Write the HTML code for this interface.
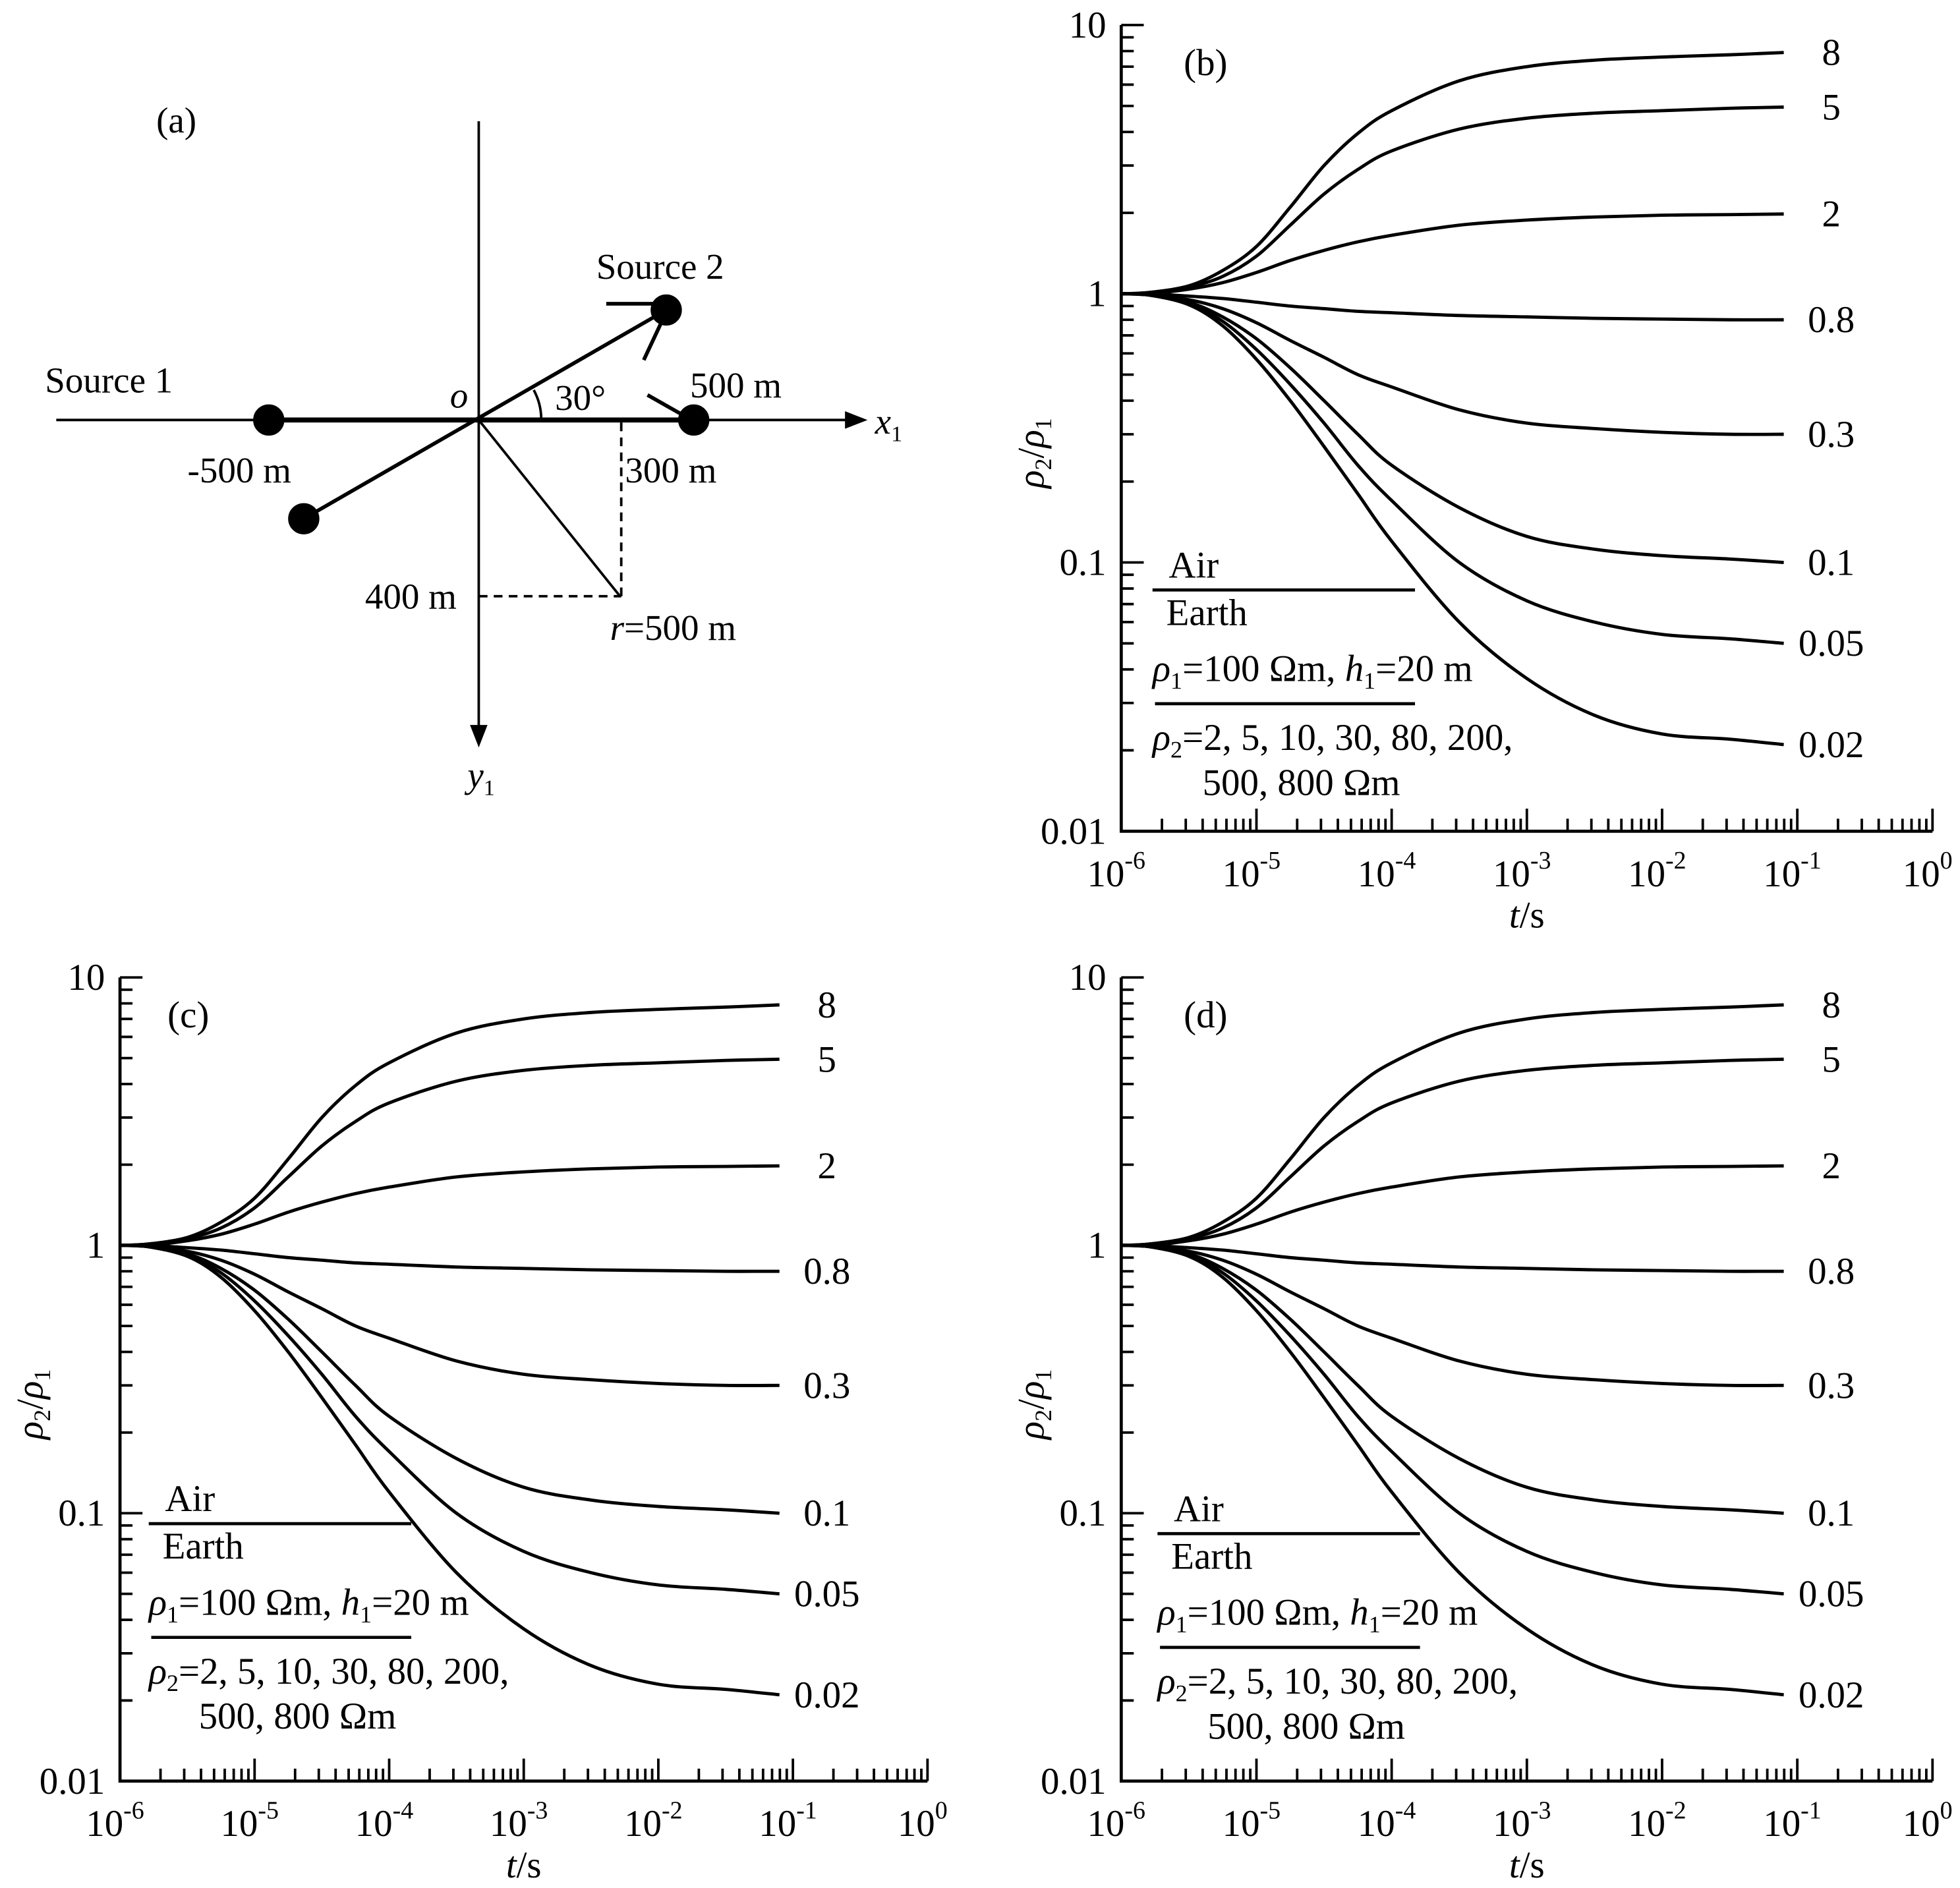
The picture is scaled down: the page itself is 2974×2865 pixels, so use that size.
<!DOCTYPE html>
<html><head><meta charset="utf-8"><style>
html,body{margin:0;padding:0;background:#fff}
svg{display:block}
text{font-family:"Liberation Serif",serif;fill:#000}
</style></head><body>
<svg id="fig" width="2974" height="2865" viewBox="0 0 1568 1510.5" xmlns="http://www.w3.org/2000/svg">
<g id="panel-a" stroke="#000" fill="none">
  <line x1="45" y1="336" x2="688" y2="336" stroke-width="2"/>
  <polygon points="694,336 676,329 676,343" fill="#000" stroke="none"/>
  <line x1="215" y1="336" x2="555" y2="336" stroke-width="4"/>
  <line x1="383" y1="97" x2="383" y2="590" stroke-width="2"/>
  <polygon points="383,598 376,580 390,580" fill="#000" stroke="none"/>
  <line x1="243" y1="415" x2="533" y2="248" stroke-width="3"/>
  <line x1="485" y1="243" x2="530" y2="243" stroke-width="3"/>
  <line x1="515" y1="288" x2="530" y2="256" stroke-width="3"/>
  <line x1="518" y1="316" x2="548" y2="333" stroke-width="3"/>
  <line x1="383" y1="336" x2="496" y2="477" stroke-width="2"/>
  <line x1="497" y1="338" x2="497" y2="477" stroke-width="2" stroke-dasharray="7,5"/>
  <line x1="383" y1="477" x2="497" y2="477" stroke-width="2" stroke-dasharray="7,5"/>
  <path d="M433,336 A50,50 0 0 0 427,312" stroke-width="2"/>
  <circle cx="215" cy="336" r="12" fill="#000"/>
  <circle cx="555" cy="336" r="12" fill="#000"/>
  <circle cx="533" cy="248" r="12" fill="#000"/>
  <circle cx="243" cy="415" r="12" fill="#000"/>
</g>
<g font-size="29">
  <text x="125" y="106">(a)</text>
  <text x="477" y="223">Source 2</text>
  <text x="36" y="314">Source 1</text>
  <text x="360" y="326" font-style="italic">o</text>
  <text x="444" y="328">30°</text>
  <text x="552" y="318">500 m</text>
  <text x="700" y="347" font-style="italic">x<tspan font-size="18" dy="6" font-style="normal">1</tspan></text>
  <text x="150" y="386">-500 m</text>
  <text x="500" y="386">300 m</text>
  <text x="292" y="487">400 m</text>
  <text x="488" y="512"><tspan font-style="italic">r</tspan>=500 m</text>
  <text x="374" y="630" font-style="italic">y<tspan font-size="18" dy="6" font-style="normal">1</tspan></text>
</g>
</svg>
<script>
const logTimes = [-6, -5.8, -5.5, -5.25, -5, -4.75, -4.5, -4.25, -4, -3.5, -3, -2.5, -2, -1.5, -1.1];
const ratioLabels = ["8","5","2","0.8","0.3","0.1","0.05","0.02"];
const curve8   = [1, 1.01, 1.07, 1.22, 1.5, 2.1, 3.0, 3.95, 4.8, 6.2, 7.0, 7.4, 7.6, 7.75, 7.9];
const curve5   = [1, 1.01, 1.06, 1.16, 1.38, 1.8, 2.35, 2.9, 3.4, 4.1, 4.5, 4.7, 4.8, 4.9, 4.95];
const curve2   = [1, 1.0, 1.04, 1.1, 1.2, 1.33, 1.45, 1.56, 1.65, 1.8, 1.88, 1.93, 1.96, 1.97, 1.98];
const curve08  = [1, 1.0, 0.98, 0.96, 0.93, 0.9, 0.88, 0.86, 0.85, 0.83, 0.82, 0.81, 0.805, 0.8, 0.8];
const curve03  = [1, 0.99, 0.95, 0.88, 0.78, 0.67, 0.58, 0.5, 0.45, 0.37, 0.33, 0.315, 0.305, 0.3, 0.3];
const curve01  = [1, 0.99, 0.93, 0.82, 0.68, 0.53, 0.4, 0.3, 0.23, 0.16, 0.125, 0.112, 0.106, 0.103, 0.1];
const curve005 = [1, 0.99, 0.92, 0.79, 0.62, 0.46, 0.33, 0.23, 0.17, 0.1, 0.072, 0.06, 0.054, 0.052, 0.05];
const curve002 = [1, 0.99, 0.91, 0.76, 0.57, 0.4, 0.27, 0.18, 0.12, 0.06, 0.037, 0.027, 0.023, 0.022, 0.021];
const allCurves = [curve8, curve5, curve2, curve08, curve03, curve01, curve005, curve002];
const xTickExps = [-6, -5, -4, -3, -2, -1, 0];
const yTickLabels = ["0.01", "0.1", "1", "10"];

const NS = "http://www.w3.org/2000/svg";
const svg = document.getElementById("fig");
function mk(tag, attrs, parent) {
  const e = document.createElementNS(NS, tag);
  for (const k in attrs) e.setAttribute(k, attrs[k]);
  (parent || svg).appendChild(e);
  return e;
}
function drawPanel(id, letter, x0, x1, yT, yB, legX, legY) {
  const g = mk("g", {});
  
  
  const xs = lt => x0 + (lt + 6) / 6 * (x1 - x0);
  const ys = v => yB - (Math.log10(v) + 2) / 3 * (yB - yT);
  const ax = mk("path", {d: `M${x0},${yT} L${x0},${yB} L${x1},${yB}`, stroke: "#000", "stroke-width": 2.5, fill: "none"}, g);
  
  
  let tk = "";
  for (let d = -6; d < 0; d++) {
    for (let m = 1; m < 10; m++) {
      const x = xs(d + Math.log10(m));
      const L = m === 1 ? 18 : 10;
      if (d === -6 && m === 1) continue;
      tk += `M${x},${yB} v${-L} `;
    }
  }
  tk += `M${x1},${yB} v-18 `;
  for (let d = -2; d < 1; d++) {
    for (let m = 1; m < 10; m++) {
      const y = ys(Math.pow(10, d) * m);
      tk += `M${x0},${y} h${m === 1 ? 18 : 10} `;
    }
  }
  tk += `M${x0},${yT} h18 `;
  const tp = mk("path", {d: tk, stroke: "#000", "stroke-width": 2, fill: "none"}, g);
  
  
  xTickExps.forEach(e => {
    const t = mk("text", {x: xs(e) - 4, y: yB + 44, "font-size": 30, "text-anchor": "middle"}, g);
    
    
    t.innerHTML = `10<tspan font-size="20" dy="-14">${e}</tspan>`;
  });
  yTickLabels.forEach((lab, i) => {
    const t = mk("text", {x: x0 - 12, y: ys(Math.pow(10, i - 2)) + 10, "font-size": 30, "text-anchor": "end"}, g);
    
    
    t.textContent = lab;
  });
  const xt = mk("text", {x: (x0 + x1) / 2, y: yB + 77, "font-size": 30, "text-anchor": "middle"}, g);
  
  
  xt.innerHTML = '<tspan font-style="italic">t</tspan>/s';
  const cy = (yT + yB) / 2 + 20;
  const yt = mk("text", {x: x0 - 62, y: cy, "font-size": 30, "text-anchor": "middle", transform: `rotate(-90 ${x0 - 62} ${cy})`}, g);
  
  
  yt.innerHTML = '<tspan font-style="italic">ρ</tspan><tspan font-size="19" dy="6">2</tspan><tspan dy="-6">/</tspan><tspan font-style="italic">ρ</tspan><tspan font-size="19" dy="6">1</tspan>';
  const pl = mk("text", {x: letter === "c" ? x0 + 38 : x0 + 50, y: yT + 40, "font-size": 30}, g);
  
  
  pl.textContent = "(" + letter + ")";
  allCurves.forEach((vals, ci) => {
    const pts = logTimes.map((lt, i) => [xs(lt), ys(vals[i])]);
    let d = `M${pts[0][0]},${pts[0][1]}`;
    for (let i = 0; i < pts.length - 1; i++) {
      const p0 = pts[Math.max(0, i - 1)], p1 = pts[i], p2 = pts[i + 1], p3 = pts[Math.min(pts.length - 1, i + 2)];
      const c1 = [p1[0] + (p2[0] - p0[0]) / 6, p1[1] + (p2[1] - p0[1]) / 6];
      const c2 = [p2[0] - (p3[0] - p1[0]) / 6, p2[1] - (p3[1] - p1[1]) / 6];
      d += ` C${c1[0]},${c1[1]} ${c2[0]},${c2[1]} ${p2[0]},${p2[1]}`;
    }
    const c = mk("path", {d: d, stroke: "#000", "stroke-width": 2.6, fill: "none"}, g);
    
    
    const last = pts[pts.length - 1];
    const lb = mk("text", {x: last[0] + 38, y: last[1] + 10, "font-size": 30, "text-anchor": "middle"}, g);
    
    
    lb.textContent = ratioLabels[ci];
  });
  const lg = mk("g", {"font-size": 30}, g);
  
  
  mk("text", {x: legX + 13, y: legY}, lg).textContent = "Air";
  mk("line", {x1: legX, y1: legY + 10, x2: legX + 210, y2: legY + 10, stroke: "#000", "stroke-width": 2.5}, lg);
  mk("text", {x: legX + 11, y: legY + 38}, lg).textContent = "Earth";
  mk("text", {x: legX, y: legY + 83}, lg).innerHTML = '<tspan font-style="italic">ρ</tspan><tspan font-size="19" dy="6">1</tspan><tspan dy="-6">=100 Ωm, </tspan><tspan font-style="italic">h</tspan><tspan font-size="19" dy="6">1</tspan><tspan dy="-6">=20 m</tspan>';
  mk("line", {x1: legX + 2, y1: legY + 101, x2: legX + 210, y2: legY + 101, stroke: "#000", "stroke-width": 2.5}, lg);
  mk("text", {x: legX, y: legY + 138}, lg).innerHTML = '<tspan font-style="italic">ρ</tspan><tspan font-size="19" dy="6">2</tspan><tspan dy="-6">=2, 5, 10, 30, 80, 200,</tspan>';
  mk("text", {x: legX + 40, y: legY + 174}, lg).textContent = "500, 800 Ωm";
}
drawPanel("b", "b", 897, 1546, 20, 665, 922, 462);
drawPanel("c", "c", 96, 742, 782, 1425, 119, 1209);
drawPanel("d", "d", 897, 1546, 782, 1425, 926, 1217);
</script>
</body></html>
